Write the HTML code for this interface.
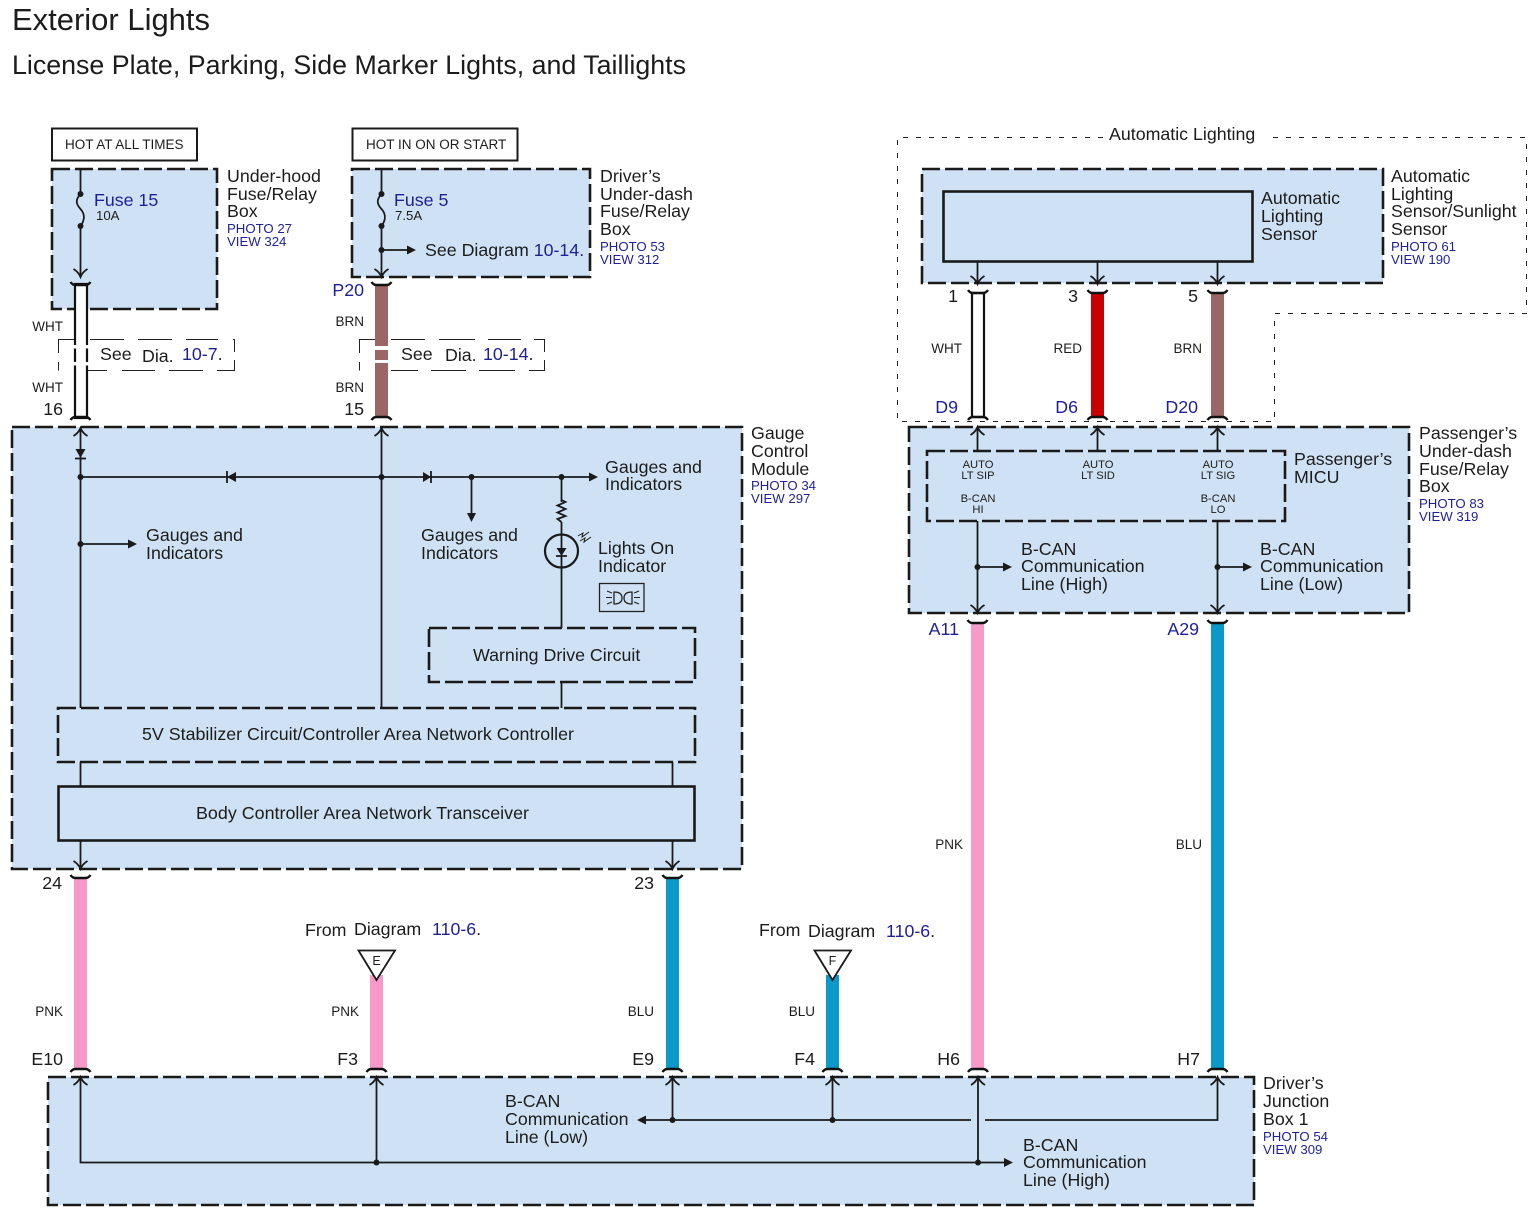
<!DOCTYPE html>
<html><head><meta charset="utf-8">
<style>
html,body{margin:0;padding:0;background:#fff}
svg{display:block}
text{font-family:"Liberation Sans",sans-serif;fill:#1c1c1c;font-size:17.8px}
.b{fill:#1f1f96}
.s{font-size:13.2px}
.w{font-size:13.5px;text-anchor:end}
.c{font-size:11.2px;text-anchor:middle}
.box{fill:#cfe2f5;stroke:#1a1a1a;stroke-width:2.6;stroke-dasharray:18 5}
.in{fill:none;stroke:#1a1a1a;stroke-width:2.6;stroke-dasharray:18 5}
.sol{fill:#cfe2f5;stroke:#1a1a1a;stroke-width:2.6}
.l{fill:none;stroke:#1a1a1a;stroke-width:1.8}
.thin{fill:none;stroke:#222;stroke-width:1;stroke-dasharray:5 8}
.thin2{fill:none;stroke:#222;stroke-width:1}
.oa{fill:none;stroke:#1a1a1a;stroke-width:1.8}
.cap{fill:none;stroke:#111;stroke-width:2.4}
.sa{fill:#1a1a1a}
</style></head>
<body>
<svg width="1535" height="1223" viewBox="0 0 1535 1223" xmlns="http://www.w3.org/2000/svg">
<defs>
<path id="od" class="oa" d="M-7,-8 Q-2,-5 0,0 Q2,-5 7,-8"/>
<path id="ou" class="oa" d="M-7,8 Q-2,5 0,0 Q2,5 7,8"/>
<path id="ct" class="cap" d="M-10,-3 Q-8,0 -5,0 H5 Q8,0 10,-3"/>
<path id="cb" class="cap" d="M-10,3 Q-8,0 -5,0 H5 Q8,0 10,3"/>
<path id="sr" class="sa" d="M0,0 L-9,-4.5 V4.5 Z"/>
<path id="sl" class="sa" d="M0,0 L9,-4.5 V4.5 Z"/>
<path id="sd" class="sa" d="M0,0 L-4.5,-9 H4.5 Z"/>
<circle id="dot" class="sa" r="3"/>
</defs>
<rect width="1535" height="1223" fill="#fff"/>

<text x="12" y="30" style="font-size:31px" textLength="198" lengthAdjust="spacingAndGlyphs">Exterior Lights</text>
<text x="12" y="74" style="font-size:26.5px" textLength="674" lengthAdjust="spacingAndGlyphs">License Plate, Parking, Side Marker Lights, and Taillights</text>

<!-- Automatic lighting frame -->
<path class="thin" d="M1103,137.500 H897.500 V421.500 H1274.500 V313.500 H1526.500 V137.500 H1265"/>
<text x="1109" y="140">Automatic Lighting</text>

<!-- Hot boxes -->
<rect x="52" y="128.500" width="145" height="32" fill="#fff" stroke="#1a1a1a" stroke-width="2"/>
<text x="65" y="149" class="s" style="font-size:13.5px">HOT AT ALL TIMES</text>
<rect x="352.500" y="128.500" width="165" height="32" fill="#fff" stroke="#1a1a1a" stroke-width="2"/>
<text x="366" y="149" class="s" style="font-size:13.5px">HOT IN ON OR START</text>

<!-- Component boxes -->
<rect class="box" x="52" y="169" width="165" height="140"/>
<rect class="box" x="352" y="169" width="238" height="108"/>
<rect class="box" x="12" y="427" width="730" height="442"/>
<rect class="box" x="922" y="169" width="461" height="114"/>
<rect class="box" x="909" y="427" width="500" height="186"/>
<rect class="box" x="48" y="1077" width="1206" height="128"/>
<rect class="sol" x="943.500" y="191.500" width="309" height="70"/>
<rect class="in" x="927" y="451" width="358" height="70"/>
<rect class="in" x="429" y="628" width="266" height="54"/>
<rect class="in" x="58" y="708" width="637" height="54"/>
<rect class="sol" x="58.500" y="786.500" width="636" height="54"/>

<!-- See Dia boxes -->
<path class="thin2" d="M74,339.500 H58.500 V353 M58.500,362 V370.500 M90,339.500 H124 M138,339.500 H172 M186,339.500 H218 M233,339.500 H234.500 V352 M234.500,360 V370.500 H217 M203,370.500 H169 M155,370.500 H122 M107,370.500 H87"/>
<path class="thin2" d="M375,339.500 H359.500 V353 M359.500,362 V370.500 M391,339.500 H425 M439,339.500 H475 M488,339.500 H521 M534,339.500 H544.500 V352 M544.500,360 V370.500 H529 M515,370.500 H479 M466,370.500 H431 M418,370.500 H391"/>

<!-- Wires -->
<rect x="75" y="284" width="12" height="134" fill="#fff" stroke="#111" stroke-width="2.2"/>
<rect x="70" y="345" width="22" height="3.500" fill="#fff"/>
<rect x="70" y="362" width="22" height="3.500" fill="#fff"/>
<rect x="375" y="284" width="13" height="134" fill="#9b6766"/>
<rect x="372" y="346" width="19" height="4" fill="#fff"/>
<rect x="372" y="360" width="19" height="3" fill="#fff"/>
<rect x="972" y="293" width="12" height="124" fill="#fff" stroke="#111" stroke-width="2.2"/>
<rect x="1091" y="293" width="13" height="124" fill="#c80000"/>
<rect x="1211" y="293" width="13" height="124" fill="#9b6766"/>
<rect x="971" y="622" width="13" height="448" fill="#f799c9"/>
<rect x="1211" y="622" width="13" height="448" fill="#0b99c9"/>
<rect x="74" y="878" width="13" height="192" fill="#f799c9"/>
<rect x="666" y="878" width="13" height="192" fill="#0b99c9"/>
<rect x="370" y="975" width="13" height="95" fill="#f799c9"/>
<rect x="826" y="975" width="13" height="95" fill="#0b99c9"/>
<path d="M358.500,950.500 H395 L376.500,980 Z" fill="#fff" stroke="#1a1a1a" stroke-width="1.8"/>
<path d="M814.500,950.500 H851 L832.500,980 Z" fill="#fff" stroke="#1a1a1a" stroke-width="1.8"/>
<text x="376.500" y="965" class="c" style="font-size:12.500px">E</text>
<text x="832.500" y="965" class="c" style="font-size:12.500px">F</text>

<!-- Caps -->
<use href="#ct" x="80.500" y="285"/><use href="#cb" x="80.500" y="417"/>
<use href="#ct" x="381.500" y="285"/><use href="#cb" x="381.500" y="417"/>
<use href="#ct" x="978" y="293"/><use href="#cb" x="978" y="417"/>
<use href="#ct" x="1097.500" y="293"/><use href="#cb" x="1097.500" y="417"/>
<use href="#ct" x="1217.500" y="293"/><use href="#cb" x="1217.500" y="417"/>
<use href="#ct" x="977.500" y="623"/><use href="#ct" x="1217.500" y="623"/>
<use href="#ct" x="80.500" y="878"/><use href="#ct" x="672.500" y="878"/>
<use href="#cb" x="80.500" y="1069"/><use href="#cb" x="376.500" y="1069"/>
<use href="#cb" x="672.500" y="1069"/><use href="#cb" x="832.500" y="1069"/>
<use href="#cb" x="978" y="1069"/><use href="#cb" x="1217.500" y="1069"/>

<!-- Under-hood internal -->
<path class="l" d="M80.500,170 V194 M80.500,226 V277"/>
<path class="l" d="M80.500,194 C75,200 76,204 80.500,209 C85,214 85,220 80.500,226"/>
<use href="#dot" x="80.500" y="194"/><use href="#dot" x="80.500" y="226"/>
<use href="#od" x="80.500" y="277"/>

<!-- Driver's internal -->
<path class="l" d="M381.500,170 V194 M381.500,226 V277 M381.500,250 H408"/>
<path class="l" d="M381.500,194 C376,200 377,204 381.500,209 C386,214 386,220 381.500,226"/>
<use href="#dot" x="381.500" y="194"/><use href="#dot" x="381.500" y="226"/><use href="#dot" x="381.500" y="250"/>
<use href="#od" x="381.500" y="277"/>
<use href="#sr" x="416" y="250"/>

<!-- Gauge internal -->
<path class="l" d="M80.500,428 V708 M381.500,428 V708 M80.500,477 H590 M471.500,477 V514 M561.500,477 V502 M561.500,522 V535 M561.500,568 V628 M561.500,682 V708 M80.500,544 H128 M80.500,762 V786 M672.500,762 V786 M80.500,840 V868 M672.500,840 V868"/>
<use href="#ou" x="80.500" y="428"/><use href="#ou" x="381.500" y="428"/>
<use href="#od" x="80.500" y="869"/><use href="#od" x="672.500" y="869"/>
<use href="#dot" x="80.500" y="477"/><use href="#dot" x="381.500" y="477"/><use href="#dot" x="471.500" y="477"/><use href="#dot" x="561.500" y="477"/><use href="#dot" x="80.500" y="544"/>
<use href="#sr" x="598" y="477"/><use href="#sd" x="471.500" y="522"/><use href="#sr" x="137" y="544"/>
<!-- diodes -->
<path class="sa" d="M80.500,458 L75.500,449 H85.500 Z"/><path class="l" d="M75,458.500 H86"/>
<path class="sa" d="M227,477 L236,472 V482 Z"/><path class="l" d="M227,471 V483"/>
<path class="sa" d="M431,477 L423,472 V482 Z"/><path class="l" d="M431,471 V483"/>
<!-- resistor -->
<path class="l" d="M561.500,500 L565.500,502 L557.500,505.500 L565.500,509 L557.500,512.500 L565.500,516 L557.500,519 L561.500,522"/>
<!-- LED -->
<circle cx="561.500" cy="551" r="16.500" fill="none" stroke="#1a1a1a" stroke-width="2.2"/>
<path class="l" d="M561.500,534 V568 M556,556 H567"/>
<path class="sa" d="M561.500,556 L556.500,548 H566.500 Z"/>
<path class="l" d="M578,536 L583,533 L582,537 L589,532 M580,541 L585,538 L584,542 L591,537" style="stroke-width:1"/>
<!-- headlight icon -->
<rect x="599.500" y="583.500" width="44.500" height="28" fill="none" stroke="#222" stroke-width="1.300"/>
<path d="M614,592 V604 Q622,604 622,598 Q622,592 614,592 Z M632,592 V604 Q624,604 624,598 Q624,592 632,592 Z" fill="none" stroke="#222" stroke-width="1.300"/>
<path d="M607,591 L612,593 M606,597.500 H612 M607,604 L612,602 M634,593 L639,591 M634,597.500 H640 M634,602 L639,604" fill="none" stroke="#222" stroke-width="1.100"/>

<!-- Sensor internal -->
<path class="l" d="M977.500,262 V283 M1097.500,262 V283 M1217.500,262 V283"/>
<use href="#od" x="977.500" y="284"/><use href="#od" x="1097.500" y="284"/><use href="#od" x="1217.500" y="284"/>

<!-- Passenger internal -->
<path class="l" d="M977.500,428 V451 M1097.500,428 V451 M1217.500,428 V451 M977.500,521 V612 M1217.500,521 V612 M977.500,567 H1003 M1217.500,567 H1243"/>
<use href="#ou" x="977.500" y="427"/><use href="#ou" x="1097.500" y="427"/><use href="#ou" x="1217.500" y="427"/>
<use href="#od" x="977.500" y="613"/><use href="#od" x="1217.500" y="613"/>
<use href="#dot" x="977.500" y="567"/><use href="#dot" x="1217.500" y="567"/>
<use href="#sr" x="1012" y="567"/><use href="#sr" x="1252" y="567"/>

<!-- Junction internal -->
<path class="l" d="M80.500,1078 V1162.500 H1004 M376.500,1078 V1162.500 M978,1078 V1162.500 M672.500,1078 V1120 M832.500,1078 V1120 M646,1120 H971 M985,1120 H1217.500 V1078"/>
<use href="#ou" x="80.500" y="1077"/><use href="#ou" x="376.500" y="1077"/><use href="#ou" x="672.500" y="1077"/><use href="#ou" x="832.500" y="1077"/><use href="#ou" x="978" y="1077"/><use href="#ou" x="1217.500" y="1077"/>
<use href="#dot" x="376.500" y="1162.500"/><use href="#dot" x="978" y="1162.500"/><use href="#dot" x="672.500" y="1120"/><use href="#dot" x="832.500" y="1120"/>
<use href="#sr" x="1013" y="1162.500"/><use href="#sl" x="637" y="1120"/>

<!-- Labels: top left -->
<text x="94" y="206" class="b">Fuse 15</text>
<text x="96" y="220" class="s">10A</text>
<text x="227" y="182">Under-hood</text>
<text x="227" y="200">Fuse/Relay</text>
<text x="227" y="217">Box</text>
<text x="227" y="233" class="s b">PHOTO 27</text>
<text x="227" y="246" class="s b">VIEW 324</text>

<text x="394" y="206" class="b">Fuse 5</text>
<text x="395" y="220" class="s">7.5A</text>
<text x="425" y="256">See  Diagram <tspan class="b">10-14.</tspan></text>
<text x="600" y="182">Driver’s</text>
<text x="600" y="200">Under-dash</text>
<text x="600" y="217">Fuse/Relay</text>
<text x="600" y="235">Box</text>
<text x="600" y="251" class="s b">PHOTO 53</text>
<text x="600" y="264" class="s b">VIEW 312</text>

<text x="63" y="331" class="w">WHT</text>
<text x="63" y="392" class="w">WHT</text>
<text x="63" y="415" text-anchor="end">16</text>
<text x="364" y="326" class="w">BRN</text>
<text x="364" y="392" class="w">BRN</text>
<text x="364" y="296" text-anchor="end" class="b">P20</text>
<text x="364" y="415" text-anchor="end">15</text>
<text x="100" y="360">See</text>
<text x="142" y="362">Dia.</text>
<text x="182" y="360" class="b">10-7<tspan style="fill:#1c1c1c">.</tspan></text>
<text x="401" y="360">See</text>
<text x="445" y="361">Dia.</text>
<text x="483" y="360" class="b">10-14<tspan style="fill:#1c1c1c">.</tspan></text>

<!-- Gauge labels -->
<text x="751" y="439">Gauge</text>
<text x="751" y="457">Control</text>
<text x="751" y="475">Module</text>
<text x="751" y="490" class="s b">PHOTO 34</text>
<text x="751" y="503" class="s b">VIEW 297</text>
<text x="605" y="473">Gauges and</text>
<text x="605" y="490">Indicators</text>
<text x="421" y="541">Gauges and</text>
<text x="421" y="559">Indicators</text>
<text x="146" y="541">Gauges and</text>
<text x="146" y="559">Indicators</text>
<text x="598" y="554">Lights On</text>
<text x="598" y="572">Indicator</text>
<text x="473" y="661">Warning Drive Circuit</text>
<text x="142" y="740" textLength="432" lengthAdjust="spacingAndGlyphs">5V Stabilizer Circuit/Controller Area Network Controller</text>
<text x="196" y="819" textLength="333" lengthAdjust="spacingAndGlyphs">Body Controller Area Network Transceiver</text>

<!-- Right top labels -->
<text x="1261" y="204">Automatic</text>
<text x="1261" y="222">Lighting</text>
<text x="1261" y="240">Sensor</text>
<text x="1391" y="182">Automatic</text>
<text x="1391" y="200">Lighting</text>
<text x="1391" y="217">Sensor/Sunlight</text>
<text x="1391" y="235">Sensor</text>
<text x="1391" y="251" class="s b">PHOTO 61</text>
<text x="1391" y="264" class="s b">VIEW 190</text>

<text x="958" y="302" text-anchor="end">1</text>
<text x="1078" y="302" text-anchor="end">3</text>
<text x="1198" y="302" text-anchor="end">5</text>
<text x="962" y="353" class="w">WHT</text>
<text x="1082" y="353" class="w">RED</text>
<text x="1202" y="353" class="w">BRN</text>
<text x="958" y="413" text-anchor="end" class="b">D9</text>
<text x="1078" y="413" text-anchor="end" class="b">D6</text>
<text x="1198" y="413" text-anchor="end" class="b">D20</text>

<!-- Passenger labels -->
<text x="978" y="468" class="c">AUTO</text><text x="978" y="479" class="c">LT SIP</text>
<text x="1098" y="468" class="c">AUTO</text><text x="1098" y="479" class="c">LT SID</text>
<text x="1218" y="468" class="c">AUTO</text><text x="1218" y="479" class="c">LT SIG</text>
<text x="978" y="502" class="c">B-CAN</text><text x="978" y="513" class="c">HI</text>
<text x="1218" y="502" class="c">B-CAN</text><text x="1218" y="513" class="c">LO</text>
<text x="1294" y="465">Passenger’s</text>
<text x="1294" y="483">MICU</text>
<text x="1419" y="439">Passenger’s</text>
<text x="1419" y="457">Under-dash</text>
<text x="1419" y="475">Fuse/Relay</text>
<text x="1419" y="492">Box</text>
<text x="1419" y="508" class="s b">PHOTO 83</text>
<text x="1419" y="521" class="s b">VIEW 319</text>
<text x="1021" y="555">B-CAN</text>
<text x="1021" y="572">Communication</text>
<text x="1021" y="590">Line (High)</text>
<text x="1260" y="555">B-CAN</text>
<text x="1260" y="572">Communication</text>
<text x="1260" y="590">Line (Low)</text>
<text x="959" y="635" text-anchor="end" class="b">A11</text>
<text x="1199" y="635" text-anchor="end" class="b">A29</text>

<!-- Lower labels -->
<text x="62" y="889" text-anchor="end">24</text>
<text x="654" y="889" text-anchor="end">23</text>
<text x="63" y="1016" class="w">PNK</text>
<text x="359" y="1016" class="w">PNK</text>
<text x="654" y="1016" class="w">BLU</text>
<text x="815" y="1016" class="w">BLU</text>
<text x="963" y="849" class="w">PNK</text>
<text x="1202" y="849" class="w">BLU</text>
<text x="63" y="1065" text-anchor="end">E10</text>
<text x="358" y="1065" text-anchor="end">F3</text>
<text x="654" y="1065" text-anchor="end">E9</text>
<text x="815" y="1065" text-anchor="end">F4</text>
<text x="960" y="1065" text-anchor="end">H6</text>
<text x="1200" y="1065" text-anchor="end">H7</text>
<text x="305" y="936">From</text>
<text x="354" y="935">Diagram</text>
<text x="432" y="935" class="b">110-6<tspan style="fill:#1c1c1c">.</tspan></text>
<text x="759" y="936">From</text>
<text x="808" y="937">Diagram</text>
<text x="886" y="937" class="b">110-6<tspan style="fill:#1c1c1c">.</tspan></text>

<text x="505" y="1107">B-CAN</text>
<text x="505" y="1125">Communication</text>
<text x="505" y="1143">Line (Low)</text>
<text x="1023" y="1151">B-CAN</text>
<text x="1023" y="1168">Communication</text>
<text x="1023" y="1186">Line (High)</text>
<text x="1263" y="1089">Driver’s</text>
<text x="1263" y="1107">Junction</text>
<text x="1263" y="1125">Box 1</text>
<text x="1263" y="1141" class="s b">PHOTO 54</text>
<text x="1263" y="1154" class="s b">VIEW 309</text>
</svg>
</body></html>
